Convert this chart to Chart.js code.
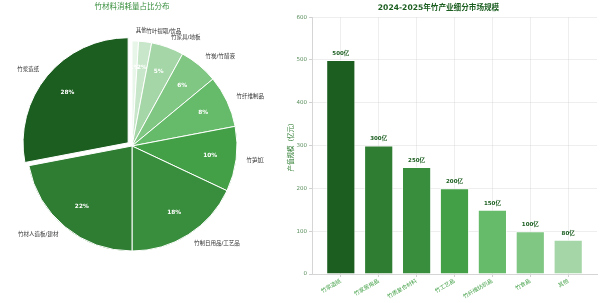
<!DOCTYPE html>
<html>
<head>
<meta charset="utf-8">
<script src="https://cdn.jsdelivr.net/npm/chart.js@4"></script>
<style>
  html, body { margin: 0; padding: 0; background: #fff; }
  #wrap { position: relative; width: 600px; height: 303px; overflow: hidden; }
  #pie { position: absolute; left: 0; top: 0; }
  #bar { position: absolute; left: 280px; top: 0; }
</style>
</head>
<body>
<div id="wrap">
  <canvas id="pie" width="264" height="303"></canvas>
  <canvas id="bar" width="320" height="303"></canvas>
</div>
<script>
// left chart: share of bamboo consumption
const pieLabels = ["竹浆造纸", "竹材人造板/建材", "竹制日用品/工艺品", "竹笋加工", "竹纤维制品", "竹炭/竹醋液", "竹家具/地板", "竹叶提取/饮品", "其他"];
const pieShares = [28, 22, 18, 10, 8, 6, 5, 2, 1];
const pieColors = ["#1b5e20", "#2e7d32", "#388e3c", "#43a047", "#66bb6a", "#81c784", "#a5d6a7", "#c8e6c9", "#e8f5e9"];
const pieExplode = [20, 0, 0, 0, 0, 0, 0, 0, 0];

// right chart: market size by segment
const barCategories = ["竹浆造纸", "竹家居用品", "竹质复合材料", "竹工艺品", "竹纤维纺织品", "竹食品", "其他"];
const barValues = [500, 300, 250, 200, 150, 100, 80];
const barColors = ["#1b5e20", "#2e7d32", "#388e3c", "#43a047", "#66bb6a", "#81c784", "#a5d6a7"];
const yTicks = [0, 100, 200, 300, 400, 500, 600];

const FONT = "'DejaVu Sans', 'Noto Sans CJK SC', sans-serif";
Chart.defaults.font.family = FONT;

// matplotlib draws counter-clockwise from the top, chart.js clockwise
const rev = a => a.slice().reverse();

const pieText = {
  id: "pieText",
  afterDatasetsDraw(chart) {
    const ctx = chart.ctx;
    const meta = chart.getDatasetMeta(0);
    const ds = chart.data.datasets[0];
    ctx.save();
    ctx.textBaseline = "middle";
    meta.data.forEach((arc, i) => {
      const mid = (arc.startAngle + arc.endAngle) / 2;
      const off = (arc.options.offset || 0) / 4;
      const cx = arc.x + Math.cos(mid) * off;
      const cy = arc.y + Math.sin(mid) * off;
      const r = arc.outerRadius;
      ctx.font = "bold 5.8px " + FONT;
      ctx.fillStyle = "#fff";
      ctx.textAlign = "center";
      ctx.fillText(ds.data[i] + "%", cx + Math.cos(mid) * r * 0.75, cy + Math.sin(mid) * r * 0.75);
      ctx.font = "5.5px " + FONT;
      ctx.fillStyle = "#333";
      ctx.textAlign = Math.cos(mid) >= 0 ? "left" : "right";
      ctx.fillText(chart.data.labels[i], cx + Math.cos(mid) * r * 1.1, cy + Math.sin(mid) * r * 1.1);
    });
    ctx.restore();
  }
};

new Chart(document.getElementById("pie"), {
  type: "pie",
  data: {
    labels: rev(pieLabels),
    datasets: [{
      data: rev(pieShares),
      backgroundColor: rev(pieColors),
      offset: rev(pieExplode),
      borderColor: "#fff",
      borderWidth: 1,
    }],
  },
  options: {
    responsive: false,
    animation: false,
    radius: 105,
    layout: { padding: { top: 0, bottom: 26, left: 0, right: 0 } },
    plugins: {
      legend: { display: false },
      tooltip: { enabled: false },
      title: {
        display: true,
        text: "竹材料消耗量占比分布",
        color: "#388e3c",
        font: { size: 7.5, weight: "normal" },
        padding: { top: 3, bottom: 3 },
      },
    },
  },
  plugins: [pieText],
});

const barText = {
  id: "barText",
  afterDraw(chart) {
    const ctx = chart.ctx;
    const meta = chart.getDatasetMeta(0);
    ctx.save();
    ctx.font = "bold 5.5px " + FONT;
    ctx.fillStyle = "#1b5e20";
    ctx.textAlign = "center";
    ctx.textBaseline = "middle";
    meta.data.forEach((bar, i) => {
      ctx.fillText(barValues[i] + "亿", bar.x, bar.y - 6.5);
    });
    ctx.restore();
  }
};

new Chart(document.getElementById("bar"), {
  type: "bar",
  data: {
    datasets: [{
      data: barValues.map((v, i) => ({ x: i, y: v })),
      backgroundColor: barColors,
      borderColor: "rgba(255,255,255,0.7)",
      borderWidth: 1,
      categoryPercentage: 1,
      barPercentage: 0.77,
    }],
  },
  options: {
    responsive: false,
    animation: false,
    layout: { padding: { top: 0, right: 3, bottom: 0, left: 0 } },
    plugins: {
      legend: { display: false },
      tooltip: { enabled: false },
      title: {
        display: true,
        text: "2024-2025年竹产业细分市场规模",
        color: "#1b5e20",
        font: { size: 7.6, weight: "bold" },
        padding: { top: 3, bottom: 5 },
      },
    },
    scales: {
      x: {
        type: "linear",
        min: -0.76,
        max: 6.76,
        offset: false,
        z: 1,
        afterBuildTicks: (a) => { a.ticks = barCategories.map((c, i) => ({ value: i })); },
        afterFit: (s) => { s.height = 29; },
        ticks: {
          callback: (v) => barCategories[v],
          autoSkip: false,
          minRotation: 30,
          maxRotation: 30,
          color: "#43a047",
          font: { size: 5.5 },
          padding: 1,
        },
        grid: { color: "rgba(200,200,200,0.3)", tickLength: 3, tickColor: "#d0d0d0", offset: false },
        border: { color: "#d5d5d5" },
      },
      y: {
        min: 0,
        max: 600,
        z: 1,
        afterBuildTicks: (a) => { a.ticks = yTicks.map(v => ({ value: v })); },
        afterFit: (s) => { s.width = 32; },
        ticks: { color: "#5a8f5d", font: { size: 5.5 }, padding: 2 },
        grid: { color: "rgba(200,200,200,0.3)", tickLength: 3, tickColor: "#d0d0d0" },
        border: { color: "#d5d5d5" },
        title: {
          display: true,
          text: "产值规模（亿元）",
          color: "#2e7d32",
          font: { size: 6.5 },
          padding: { top: 7, bottom: 0 },
        },
      },
    },
  },
  plugins: [barText],
});
</script>
</body>
</html>
